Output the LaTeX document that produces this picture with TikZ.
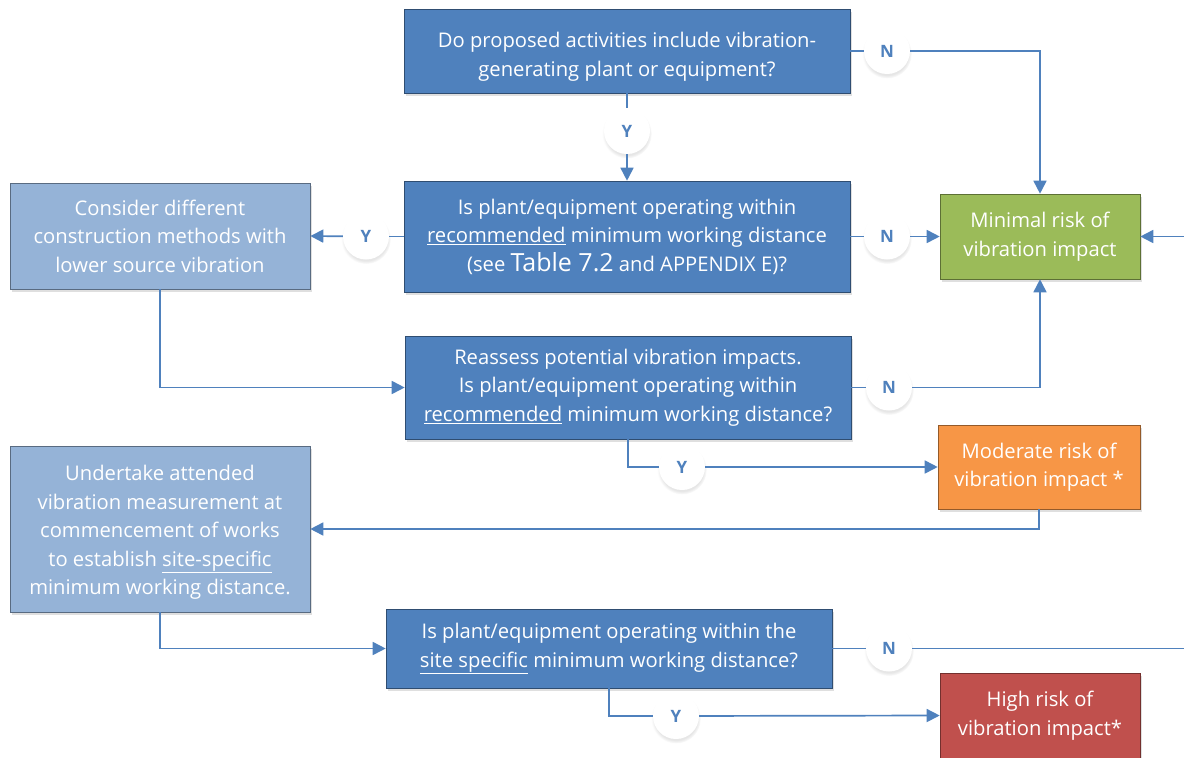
\documentclass[tikz,border=0pt]{standalone}
\usepackage{fontspec}
\setmainfont{Open Sans}
\usetikzlibrary{arrows.meta,shadows}
\definecolor{dblue}{HTML}{4F81BD}
\definecolor{lblue}{HTML}{95B3D7}
\definecolor{mgreen}{HTML}{9BBB59}
\definecolor{morange}{HTML}{F79646}
\definecolor{mred}{HTML}{C0504D}
\newcommand\ulx[1]{\underline{#1}}
\begin{document}
\begin{tikzpicture}[x=1pt,y=-1pt,
  box/.style={draw=#1!60!black, fill=#1, line width=0.6pt, text=white, align=center,
    font=\fontsize{20.2}{28.5}\selectfont, inner sep=0pt,
    drop shadow={opacity=0.25, shadow xshift=2pt, shadow yshift=-3pt}},
  yn/.style={circle, fill=white, minimum size=46pt, inner sep=0pt, text=dblue,
    font=\bfseries\fontsize{17}{17}\selectfont,
    circular drop shadow={opacity=0.2, shadow xshift=0pt, shadow yshift=-2.5pt, shadow scale=1.08}},
  conn/.style={draw=dblue, line width=1.7pt},
  arr/.style={conn, -{Triangle[length=13pt,width=13pt]}}]
\useasboundingbox (0,0) rectangle (1184,758);
\clip (0,0) rectangle (1184,758);

\node[box=dblue, minimum width=446, minimum height=84] (q1) at (627,51)
  {\rule{0pt}{27pt}Do proposed activities include vibration-\\generating plant or equipment?};
\node[box=dblue, minimum width=446, minimum height=111] (q2) at (627,236.5)
  {Is plant/equipment operating within\\\ulx{recommended} minimum working distance\\(see {\fontsize{25}{28.5}\selectfont Table 7.2} and APPENDIX E)?};
\node[box=lblue, minimum width=300, minimum height=106] (cons) at (160,236)
  {Consider different\\construction methods with\\lower source vibration};
\node[box=mgreen, minimum width=200, minimum height=85] (minr) at (1040,236.5)
  {Minimal risk of\\vibration impact};
\node[box=dblue, minimum width=446, minimum height=103] (q3) at (628,387.5)
  {Reassess potential vibration impacts.\\Is plant/equipment operating within\\\ulx{recommended} minimum working distance?};
\node[box=morange, minimum width=202, minimum height=84] (modr) at (1039,467)
  {Moderate risk of\\vibration impact *};
\node[box=lblue, minimum width=300, minimum height=166] (und) at (160,529)
  {\rule{0pt}{22pt}Undertake attended\\vibration measurement at\\commencement of works\\to establish \ulx{site-specific}\\minimum working distance.};
\node[box=dblue, minimum width=446, minimum height=79] (q4) at (609,648.5)
  {Is plant/equipment operating within the\\\ulx{site specific} minimum working distance?};
\node[box=mred, minimum width=200, minimum height=85] (highr) at (1040,715.5)
  {High risk of\\vibration impact*};

\coordinate (rc) at (1200,648.5);

\node[yn] (y1) at (627,131) {Y};
\node[yn] (n1) at (887,51) {N};
\node[yn] (y2) at (366,236.5) {Y};
\node[yn] (n2) at (887,236.5) {N};
\node[yn] (n3) at (889,387.5) {N};
\node[yn] (y4) at (682,467) {Y};
\node[yn] (n5) at (889,648.5) {N};
\node[yn] (y6) at (676,716) {Y};

\draw[conn] (q1) -- (y1);
\draw[conn] (q1) -- (n1);
\draw[conn] (q2) -- (y2);
\draw[conn] (q2) -- (n2);
\draw[conn] (q3) -- (n3);
\draw[conn] (q4) -- (n5);
\draw[arr] (y1) -- (q2);
\draw[arr] (n1) -| (minr.north);
\draw[arr] (y2) -- (cons.east);
\draw[arr] (n2) -- (minr.west);
\draw[arr] (n3) -| (minr.south);
\draw[conn] (q3.south) |- (y4);
\draw[arr] (y4) -- (modr.west);
\draw[arr] (modr.south) |- (und.east);
\draw[arr] (cons.south) |- (q3.west);
\draw[arr] (und.south) |- (q4.west);
\draw[conn] (q4.south) |- (y6);
\draw[arr] (y6) -- (highr.west);
\draw[arr] (n5) -- (rc) |- (minr.east);
\end{tikzpicture}
\end{document}
